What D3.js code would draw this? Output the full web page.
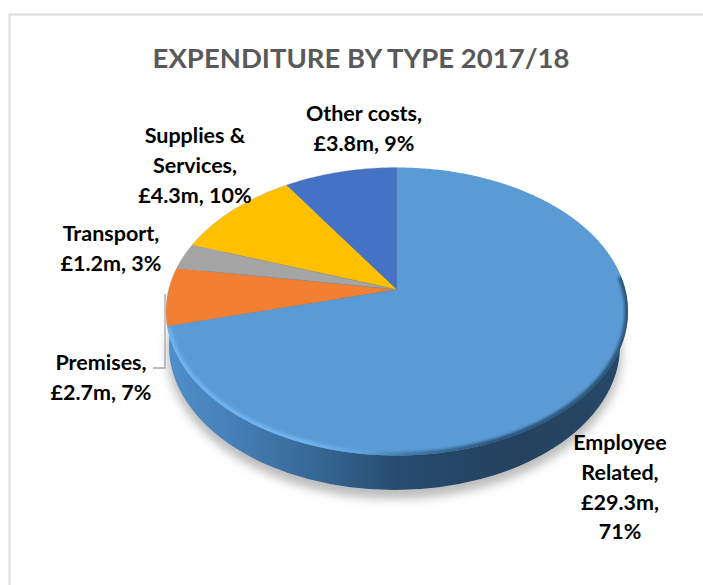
<!DOCTYPE html>
<html>
<head>
<meta charset="utf-8">
<title>Expenditure by type 2017/18</title>
<script src="https://cdn.jsdelivr.net/npm/d3@7"></script>
<style>
    html, body { margin: 0; padding: 0; background: #fff; }
    svg { display: block; }
    text { font-family: Lato, "Open Sans", sans-serif; font-weight: 700; }
</style>
</head>
<body>
<div id="chart"></div>
<script>
const title = "EXPENDITURE BY TYPE 2017/18";
const categories = ["Employee Related", "Premises", "Transport", "Supplies & Services", "Other costs"];
const amounts = [29.3, 2.7, 1.2, 4.3, 3.8];
const percents = [71, 7, 3, 10, 9];
const colors = ["#5b9bd5", "#f27f32", "#a5a5a5", "#ffc000", "#4472c4"];
// how many words go on each line of a label
const labelBreaks = [[1, 1, 1, 1], [1, 2], [1, 2], [2, 1, 2], [2, 2]];
const labelCentres = [[620, 450], [101, 370], [111, 241], [195, 143], [364, 121]];

const width = 703, height = 585;

const svg = d3.select("#chart").append("svg")
    .attr("width", width)
    .attr("height", height);

const defs = svg.append("defs");

// Top face: a circle seen in perspective. cy is the ellipse centre, the apex sits above it.
const face = { cx: 397, cy: 311.5, rx: 231, ry: 144, k: -0.153 };
// Bottom rim of the wall
const rim = { cx: 394.5, cy: 346, rx: 225.5, ry: 144 };
const apex = [face.cx, face.cy + face.ry * face.k];

function project(angle) {
    const u = Math.sin(angle), v = -Math.cos(angle), w = 1 + face.k * v;
    return [
        face.cx + face.rx * Math.sqrt(1 - face.k * face.k) * u / w,
        face.cy + face.ry * (v + face.k) / w
    ];
}

function arcPoints(a0, a1) {
    const n = Math.max(2, Math.ceil(Math.abs(a1 - a0) / 0.01));
    return d3.range(n + 1).map(i => project(a0 + (a1 - a0) * i / n));
}

const line = d3.line();

const slices = d3.pie().sort(null).value(d => d)(amounts);

const blur = (id, sd) => defs.append("filter").attr("id", id)
    .attr("x", "-20%").attr("y", "-20%").attr("width", "140%").attr("height", "140%")
    .append("feGaussianBlur").attr("stdDeviation", sd);
blur("shadowBlur", 5);
blur("bevelBlur", 1.8);

function xGradient(id, stops) {
    const g = defs.append("linearGradient").attr("id", id)
        .attr("gradientUnits", "userSpaceOnUse")
        .attr("x1", face.cx - face.rx).attr("x2", face.cx + face.rx)
        .attr("y1", 0).attr("y2", 0);
    stops.forEach(s => g.append("stop").attr("offset", s[0]).attr("stop-color", s[1]));
}
xGradient("wallFill", [[0, "#4f8fca"], [0.15, "#457fb6"], [0.35, "#33648f"], [0.5, "#274c6f"], [0.75, "#24425f"], [1, "#264866"]]);
xGradient("bevelStroke", [[0, "#6fb5f3"], [0.3, "#6fb5f3"], [0.42, "#62a4e0"], [0.52, "#3f76a8"], [0.7, "#2c5578"], [1, "#2c5578"]]);

// Frame: only the top and left rules show in this crop
svg.append("path")
    .attr("d", `M${width},14.5H9.5V${height}`)
    .attr("fill", "none")
    .attr("stroke", "#dcdcdc")
    .attr("stroke-width", 2);

svg.append("text")
    .attr("x", 361)
    .attr("y", 68)
    .attr("text-anchor", "middle")
    .attr("font-size", 27.5)
    .attr("fill", "#595959")
    .text(title);

// Soft shadow under the pie
svg.append("ellipse")
    .attr("cx", rim.cx)
    .attr("cy", rim.cy + 6)
    .attr("rx", rim.rx + 2)
    .attr("ry", rim.ry + 3)
    .attr("fill", "#bdbdbd")
    .attr("filter", "url(#shadowBlur)");

// Side wall
svg.append("ellipse")
    .attr("cx", rim.cx)
    .attr("cy", rim.cy)
    .attr("rx", rim.rx)
    .attr("ry", rim.ry)
    .attr("fill", "url(#wallFill)");

// Top face
svg.append("g").selectAll("path")
    .data(slices)
    .enter().append("path")
    .attr("d", d => line([apex].concat(arcPoints(d.startAngle, d.endAngle))) + "Z")
    .attr("fill", (d, i) => colors[i])
    .attr("stroke", (d, i) => i === 0 ? "none" : "#8f8f8f")
    .attr("stroke-opacity", 0.35)
    .attr("stroke-width", 0.8);

// Bevel along the lower edge of the biggest slice, kept inside the top face
const big = slices[0];
defs.append("clipPath").attr("id", "faceClip")
    .append("path")
    .attr("d", line(arcPoints(0, Math.PI * 2)) + "Z");

svg.append("g")
    .attr("clip-path", "url(#faceClip)")
    .append("path")
    .attr("d", line(arcPoints(Math.PI * 0.47, big.endAngle - 0.01)))
    .attr("fill", "none")
    .attr("stroke", "url(#bevelStroke)")
    .attr("stroke-width", 7)
    .attr("filter", "url(#bevelBlur)");

// Leader from the Premises label to its slice
svg.append("path")
    .attr("d", "M165,294V368H153")
    .attr("fill", "none")
    .attr("stroke", "#a6a6a6")
    .attr("stroke-width", 1.3);

// Data labels
const labels = svg.append("g").selectAll("text")
    .data(categories)
    .enter().append("text")
    .attr("text-anchor", "middle")
    .attr("font-size", 21.5)
    .attr("fill", "#000");

labels.each(function (name, i) {
    const words = `${name}, £${amounts[i].toFixed(1)}m, ${percents[i]}%`.split(" ");
    let at = 0;
    labelBreaks[i].forEach((count, row) => {
        d3.select(this).append("tspan")
            .attr("x", labelCentres[i][0])
            .attr("y", labelCentres[i][1] + row * 29.8)
            .text(words.slice(at, at + count).join(" "));
        at += count;
    });
});
</script>
</body>
</html>
